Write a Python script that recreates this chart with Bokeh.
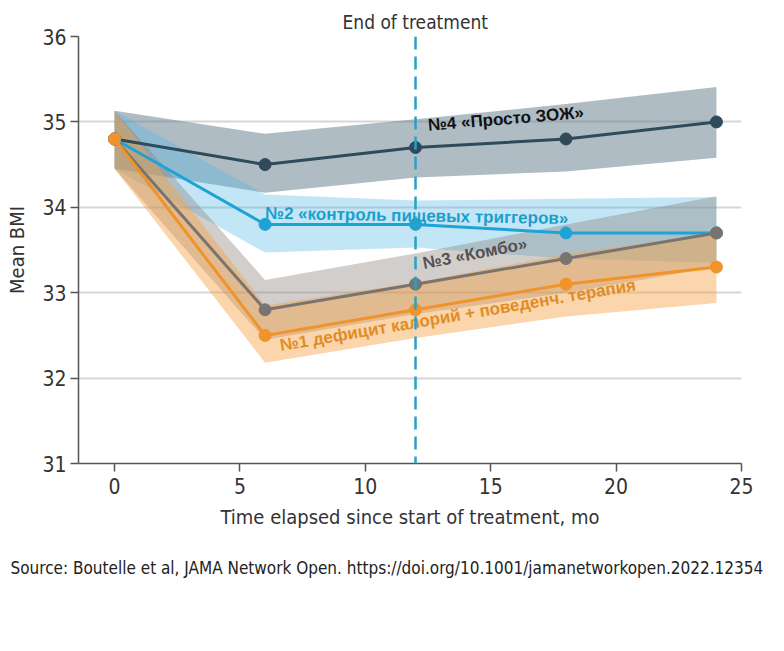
from bokeh.plotting import figure
from bokeh.models import Range1d, Span, Title, FixedTicker
from bokeh.core.properties import value
from bokeh.embed import file_html
from bokeh.resources import INLINE

# ---- data ----
months = [0, 6, 12, 18, 24]

g4_mean = [34.8, 34.5, 34.7, 34.8, 35.0]
g4_lo = [34.45, 34.17, 34.35, 34.42, 34.58]
g4_hi = [35.13, 34.86, 35.03, 35.21, 35.41]

g2_mean = [34.8, 33.8, 33.8, 33.7, 33.7]
g2_lo = [34.45, 33.47, 33.53, 33.40, 33.35]
g2_hi = [35.13, 34.15, 34.08, 34.10, 34.12]

g3_mean = [34.8, 32.8, 33.1, 33.4, 33.7]
g3_lo = [34.45, 32.45, 32.75, 33.00, 33.30]
g3_hi = [35.13, 33.15, 33.46, 33.80, 34.13]

g1_mean = [34.8, 32.5, 32.8, 33.1, 33.3]
g1_lo = [34.45, 32.18, 32.47, 32.72, 32.88]
g1_hi = [35.13, 32.85, 33.12, 33.45, 33.70]

x_ticks = [0, 5, 10, 15, 20, 25]
y_ticks = [31, 32, 33, 34, 35, 36]
end_of_treatment = 12

labels = ["№4 «Просто ЗОЖ»", "№2 «контроль пищевых триггеров»",
          "№3 «Комбо»", "№1 дефицит калорий + поведенч. терапия"]
label_x = [12.5, 6.0, 12.3, 6.6]
label_y = [34.96, 33.93, 33.34, 32.38]
label_angle = [4.7, -1.0, 11.0, 9.7]

AX_FONT = "Liberation Sans Narrow, DejaVu Sans Condensed, Open Sans"
LB_FONT = "Liberation Sans"

p = figure(width=784, height=651, output_backend="svg", toolbar_location=None,
           x_range=Range1d(-1.44, 25), y_range=Range1d(31, 36),
           min_border_left=78, min_border_right=43, min_border_top=36,
           min_border_bottom=188)
p.outline_line_color = None
p.xgrid.visible = False
p.ygrid.grid_line_color = "#d6d6d6"
p.ygrid.grid_line_width = 2
p.yaxis.ticker = FixedTicker(ticks=y_ticks)
p.xaxis.ticker = FixedTicker(ticks=x_ticks)
for ax in (p.xaxis, p.yaxis):
    ax.axis_line_color = "#555555"
    ax.axis_line_width = 1.5
    ax.major_tick_line_color = "#555555"
    ax.major_tick_line_width = 1.5
    ax.major_tick_out = 8
    ax.major_tick_in = 0
    ax.minor_tick_line_color = None
    ax.major_label_text_font = AX_FONT
    ax.major_label_text_font_size = "21px"
    ax.major_label_text_color = "#333333"
    ax.axis_label_text_font = AX_FONT
    ax.axis_label_text_font_style = "normal"
    ax.axis_label_text_color = "#333333"
p.xaxis.axis_label = "Time elapsed since start of treatment, mo"
p.xaxis.axis_label_text_font_size = "20px"
p.xaxis.major_label_standoff = 6
p.xaxis.axis_label_standoff = 8
p.yaxis.axis_label = "Mean BMI"
p.yaxis.axis_label_text_font_size = "20px"
p.yaxis.major_label_standoff = 4
p.yaxis.axis_label_standoff = 10

# bands
p.varea(x=months, y1=g4_lo, y2=g4_hi, fill_color="#5f7a8a", fill_alpha=0.5)
p.varea(x=months, y1=g2_lo, y2=g2_hi, fill_color="#4fb8e6", fill_alpha=0.35)
p.varea(x=months, y1=g3_lo, y2=g3_hi, fill_color="#8c8580", fill_alpha=0.4)
p.varea(x=months, y1=g1_lo, y2=g1_hi, fill_color="#f7a145", fill_alpha=0.45)

# end of treatment line
p.add_layout(Span(location=end_of_treatment, dimension="height",
                  line_color="#2aa0c4", line_width=2.5, line_dash="13 7"))

series = [(g4_mean, "#2e4a5b"), (g2_mean, "#1fa2d6"),
          (g3_mean, "#7a7470"), (g1_mean, "#f0932a")]
for ys, c in series:
    p.line(months, ys, line_color=c, line_width=3)
    p.scatter(months, ys, size=12, fill_color=c, line_color=c)

label_colors = ["#111111", "#1a9fcc", "#555150", "#de8d27"]
for t, x, y, a, c in zip(labels, label_x, label_y, label_angle, label_colors):
    p.text(x=[x], y=[y], text=[t], angle=a, angle_units="deg",
           text_font=value(LB_FONT), text_font_style="bold",
           text_font_size="17px", text_color=c,
           text_align="left", text_baseline="middle")

p.add_layout(Title(text="End of treatment", align="left", offset=264,
                   vertical_align="middle", standoff=6,
                   text_font=AX_FONT, text_font_size="19px",
                   text_font_style="normal", text_color="#333333"), "above")

p.add_layout(Title(text="Source: Boutelle et al, JAMA Network Open. https://doi.org/10.1001/jamanetworkopen.2022.12354",
                   align="left", offset=-68, vertical_align="middle",
                   standoff=50, text_font=AX_FONT, text_font_size="17px",
                   text_font_style="normal", text_color="#222222"), "below")

open("out.html", "w").write(file_html(p, INLINE))
